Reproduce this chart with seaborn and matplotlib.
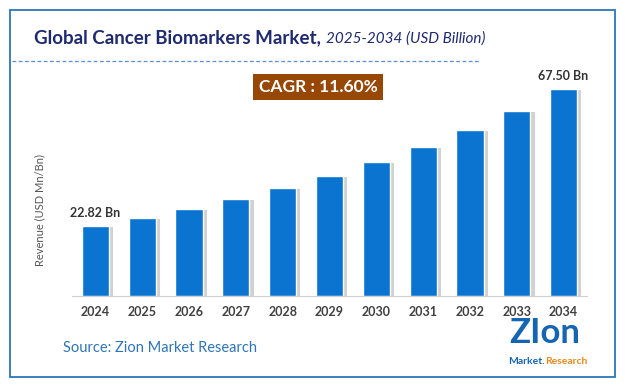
import matplotlib
matplotlib.use("Agg")
import matplotlib.pyplot as plt
import matplotlib.patheffects as pe
from matplotlib.patches import Rectangle
import seaborn as sns
import pandas as pd

# chart data
years = ["2024", "2025", "2026", "2027", "2028", "2029",
         "2030", "2031", "2032", "2033", "2034"]
revenue = [22.82, 25.4, 28.4, 31.6, 35.2, 39.1, 43.7, 48.6, 54.1, 60.3, 67.50]
shown_labels = {"2024": "22.82 Bn", "2034": "67.50 Bn"}
cagr_text = "CAGR : 11.60%"

df = pd.DataFrame({"year": years, "revenue": revenue})

sns.set_style("white")
plt.rcParams["font.family"] = ["Lato", "DejaVu Sans"]

W, H = 629, 387
fig = plt.figure(figsize=(W / 100, H / 100), dpi=100)


def fx(px):
    return px / W


def fy(py):
    return 1 - py / H


# outer frame
fig.patches.append(Rectangle((fx(10), fy(377)), fx(605), 367 / H, transform=fig.transFigure,
                             fill=False, edgecolor="#2e75b6", linewidth=1.3))

# title: bold part, then italic part placed right after it
t1 = fig.text(fx(34), fy(38), "Global Cancer Biomarkers Market,", fontsize=13.5, fontweight="bold",
              color="#1f2a6e", va="center", ha="left")
fig.canvas.draw()
end_px = t1.get_window_extent().x1
fig.text(end_px / W + fx(5), fy(39), "2025-2034 (USD Billion)", fontsize=11, fontstyle="italic",
         color="#1f2a6e", va="center", ha="left")

# dashed separator
fig.add_artist(plt.Line2D([fx(12), fx(480)], [fy(61), fy(61)], transform=fig.transFigure,
                          color="#5b8fd0", linestyle=(0, (3, 2)), linewidth=0.9))

# main bar chart
ax = fig.add_axes([fx(72), fy(296), fx(515), 216 / H])
sns.barplot(data=df, x="year", y="revenue", color="#0b74d1", saturation=1, width=0.58, ax=ax)
for bar in ax.patches:
    bar.set_path_effects([pe.SimplePatchShadow(offset=(3, -1), shadow_rgbFace="#9a9a9a", alpha=0.45),
                          pe.Normal()])
ax.set_xlim(-0.5, 10.5)
ax.set_ylim(0, 216 / 3.067)
for s in ["top", "right", "left"]:
    ax.spines[s].set_visible(False)
ax.spines["bottom"].set_color("#d0d0d0")
ax.set_yticks([])
ax.set_xlabel("")
ax.set_ylabel("")
ax.tick_params(axis="x", length=0, pad=7)
for lab in ax.get_xticklabels():
    lab.set_fontweight("bold")
    lab.set_fontsize(9)
    lab.set_color("#404040")

for i, (yr, val) in enumerate(zip(years, revenue)):
    if yr in shown_labels:
        ax.annotate(shown_labels[yr], (i, val), xytext=(0, 5), textcoords="offset points",
                    ha="center", va="bottom", fontsize=9, fontweight="bold", color="#333333")

fig.text(fx(40), fy(210), "Revenue (USD Mn/Bn)", rotation=90, fontsize=8, color="#555555",
         ha="center", va="center")

# CAGR badge
fig.text(fx(318), fy(87), cagr_text, fontsize=12.5, fontweight="bold", color="white",
         ha="center", va="center",
         bbox=dict(boxstyle="square,pad=0.3", facecolor="#974706", edgecolor="none"))

# source
fig.text(fx(63), fy(348), "Source: Zion Market Research", fontsize=10.5, color="#2e75b6",
         ha="left", va="center")

# logo approximation
fig.text(fx(545), fy(333), "ZIon", fontsize=25, fontweight="bold", color="#1565b0",
         ha="center", va="center")
fig.text(fx(545), fy(361), "Market.", fontsize=7.5, fontweight="bold", color="#1565b0",
         ha="right", va="center")
fig.text(fx(545), fy(361), "Research", fontsize=7.5, fontweight="bold", color="#e8891c",
         ha="left", va="center")

fig.savefig("out.png", dpi=100)
